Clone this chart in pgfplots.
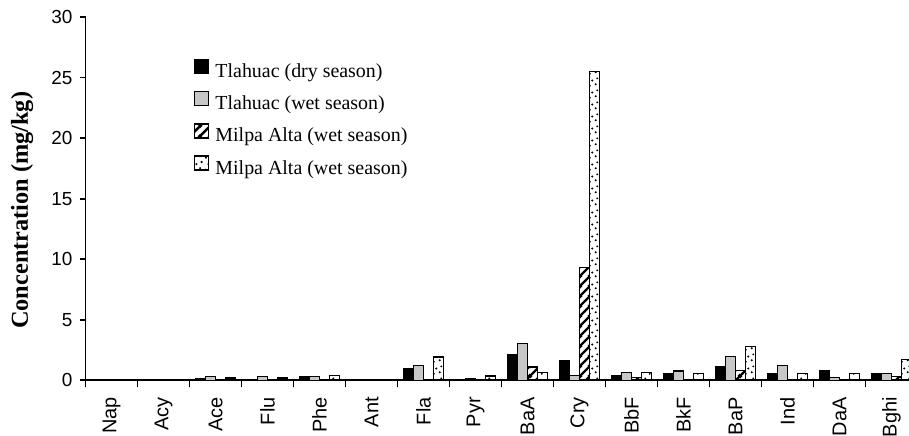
\documentclass[border=0pt]{standalone}
\usepackage{fontspec}
\setmainfont{Liberation Serif}
\newfontfamily\arial{Liberation Sans}
\usepackage{pgfplots}
\usepackage{pgfplotstable}
\pgfplotsset{compat=1.18}
\usetikzlibrary{patterns.meta}

\tikzdeclarepattern{name=thickNE, type=uncolored,
  bounding box={(0,0) and (5bp,5bp)}, tile size={(5bp,5bp)},
  code={
    \draw[line width=1.3bp] (-1bp,-1bp) -- (6bp,6bp);
    \draw[line width=1.3bp] (-3bp,2bp) -- (3bp,8bp);
    \draw[line width=1.3bp] (2bp,-3bp) -- (8bp,3bp);
  }}
\tikzdeclarepattern{name=sparsedots, type=uncolored,
  bounding box={(0,0) and (6bp,6bp)}, tile size={(6bp,6bp)},
  code={
    \fill (1bp,1.2bp) circle (0.6bp);
    \fill (4.2bp,2bp) circle (0.6bp);
    \fill (2.3bp,4.1bp) circle (0.6bp);
    \fill (5bp,5.2bp) circle (0.6bp);
  }}

\pgfplotsset{sqlegend/.style={legend image code/.code={\draw[##1] (0bp,-0.5bp) rectangle (7bp,6.5bp);}}}

\pgfplotstableread{
cat  dry   wet   mah   mad
0    0     0     0     0
1    0     0     0     0
2    0.1   0.3   0     0.2
3    0     0.3   0     0.2
4    0.3   0.3   0     0.4
5    0     0     0     0
6    0.96  1.24  0     1.93
7    0     0.1   0     0.35
8    2.15  3.02  1.1   0.63
9    1.6   0.41  9.33  25.5
10   0.41  0.63  0.22  0.63
11   0.55  0.77  0     0.58
12   1.1   1.95  0.83  2.78
13   0.55  1.21  0     0.55
14   0.77  0.22  0     0.58
15   0.55  0.55  0.3   1.73
}\data

\begin{document}
\begin{tikzpicture}
\begin{axis}[
  scale only axis, width=416bp, height=181.65bp,
  xmin=-0.5, xmax=15.5, ymin=0, ymax=30,
  axis x line*=bottom, axis y line*=left,
  axis line style={line width=0.9bp, black},
  ybar=0pt, bar width=5bp,
  ytick={0,5,...,30},
  xtick={0,...,15},
  xticklabels={Nap,Acy,Ace,Flu,Phe,Ant,Fla,Pyr,BaA,Cry,BbF,BkF,BaP,Ind,DaA,Bghi},
  minor xtick={-0.5,0.5,...,15.5},
  tick align=outside,
  major tick length=3bp,
  minor tick length=3.5bp,
  major x tick style={draw=none},
  tick style={line width=0.9bp, black},
  /pgf/number format/assume math mode=true,
  xticklabel shift=2bp,
  xticklabel style={rotate=90, anchor=east, font=\arial\fontsize{10}{12}\selectfont},
  yticklabel style={font=\arial\fontsize{9.5}{11}\selectfont},
  ylabel={Concentration (mg/kg)},
  ylabel style={font=\bfseries\fontsize{12.2}{14}\selectfont, at={(axis description cs:-0.0763,0.468)}, anchor=center},
  legend style={draw=none, fill=none, inner sep=0pt,
    at={(axis description cs:0.13,0.886)}, anchor=north west,
    font=\fontsize{10}{12}\selectfont, row sep=3.75bp, column sep=2bp,
    nodes={inner sep=1bp, text height=7bp, text depth=2bp},
    legend cell align=left},
]
\addplot[fill=black, draw=black, line width=0.7bp, sqlegend]
  table[x=cat,y=dry]{\data};
\addplot[fill=black!22, draw=black, line width=0.7bp, sqlegend]
  table[x=cat,y=wet]{\data};
\addplot[draw=black, line width=0.7bp, pattern={thickNE}, pattern color=black, sqlegend]
  table[x=cat,y=mah]{\data};
\addplot[draw=black, line width=0.7bp, pattern={sparsedots}, pattern color=black, sqlegend]
  table[x=cat,y=mad]{\data};
\legend{Tlahuac (dry season), Tlahuac (wet season), Milpa Alta (wet season), Milpa Alta (wet season)}
\end{axis}
\pgfresetboundingbox
\useasboundingbox ([xshift=-42.75bp,yshift=-27.5bp]current axis.south west) rectangle ([xshift=-4.25bp,yshift=8.5bp]current axis.north east);
\end{tikzpicture}
\end{document}
